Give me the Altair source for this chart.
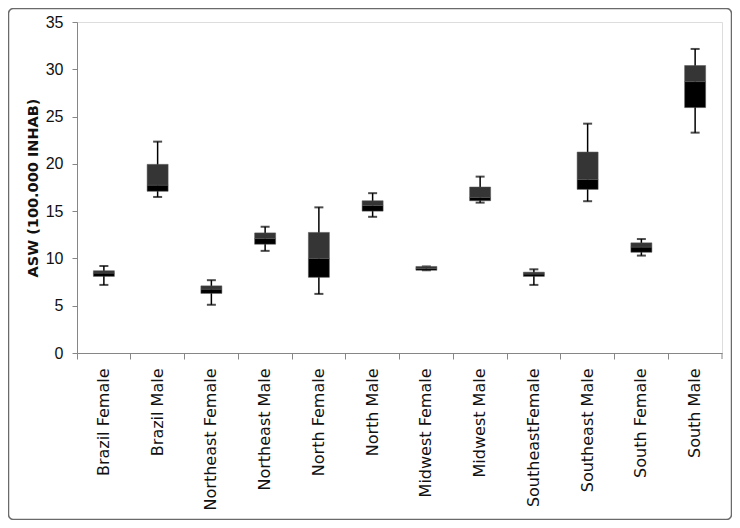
import altair as alt
import pandas as pd

categories = ["Brazil Female", "Brazil Male", "Northeast Female", "Northeast Male",
              "North Female", "North Male", "Midwest Female", "Midwest Male",
              "SoutheastFemale", "Southeast Male", "South Female", "South Male"]
whisker_min = [7.2, 16.5, 5.1, 10.8, 6.25, 14.4, 8.75, 15.9, 7.2, 16.05, 10.3, 23.3]
q1 = [8.1, 17.1, 6.3, 11.5, 8.0, 15.0, 8.75, 16.1, 8.1, 17.3, 10.65, 25.95]
median = [8.45, 17.75, 6.75, 12.1, 10.0, 15.6, 8.95, 16.45, 8.35, 18.35, 11.2, 28.7]
q3 = [8.7, 19.95, 7.1, 12.7, 12.75, 16.1, 9.15, 17.55, 8.55, 21.25, 11.65, 30.4]
whisker_max = [9.2, 22.35, 7.7, 13.35, 15.4, 16.9, 9.15, 18.65, 8.85, 24.25, 12.05, 32.15]

df = pd.DataFrame({"cat": categories, "lo": whisker_min, "q1": q1, "med": median,
                   "q3": q3, "hi": whisker_max})

W, H = 645, 331

x = alt.X("cat:N", sort=categories, title=None,
          scale=alt.Scale(paddingInner=0, paddingOuter=0),
          axis=alt.Axis(labelAngle=-90, labelFont="DejaVu Sans", labelFontSize=16,
                        labelColor="#111111", labelPadding=9, bandPosition=0,
                        tickSize=6, tickColor="#868686", domainColor="#868686",
                        labelLimit=300))
yscale = alt.Scale(domain=[0, 35], nice=False)
yaxis = alt.Axis(values=[0, 5, 10, 15, 20, 25, 30, 35], grid=False,
                 labelFont="Liberation Sans", labelFontSize=16, labelColor="#111111",
                 labelPadding=9, tickSize=5, tickColor="#868686", domainColor="#868686",
                 title="ASW (100.000 INHAB)", titleFont="DejaVu Sans", titleFontSize=14.5,
                 titleFontWeight="bold", titleColor="#111111", titlePadding=5)

base = alt.Chart(df)

whisker = base.mark_rule(color="black", strokeWidth=1.5).encode(
    x=x, y=alt.Y("lo:Q", scale=yscale, axis=yaxis), y2="hi:Q")
cap_hi = base.mark_tick(color="black", size=9, thickness=2, orient="horizontal").encode(
    x=x, y=alt.Y("hi:Q", scale=yscale))
cap_lo = base.mark_tick(color="black", size=9, thickness=2, orient="horizontal").encode(
    x=x, y=alt.Y("lo:Q", scale=yscale))
lower = base.mark_bar(color="black", size=21, stroke="#555555", strokeWidth=0.5).encode(
    x=x, y=alt.Y("q1:Q", scale=yscale), y2="med:Q")
upper = base.mark_bar(color="#353535", size=21, stroke="#555555", strokeWidth=0.5).encode(
    x=x, y=alt.Y("med:Q", scale=yscale), y2="q3:Q")

end_tick = alt.Chart(pd.DataFrame({"a": [0]})).mark_rule(color="#868686").encode(
    x=alt.value(W), y=alt.value(H), y2=alt.value(H + 6))

border = alt.Chart(pd.DataFrame({"a": [0]})).mark_rect(
    fill="transparent", stroke="#6a6a6a", strokeWidth=1.5, cornerRadius=5).encode(
    x=alt.value(-68.5), x2=alt.value(W + 9.5), y=alt.value(-13.5), y2=alt.value(H + 166.5))

chart = alt.layer(whisker, cap_hi, cap_lo, lower, upper, end_tick, border).properties(
    width=W, height=H,
    autosize=alt.AutoSizeParams(type="none"),
    padding={"left": 69, "top": 14, "right": 10, "bottom": 167},
).configure_view(stroke=None).configure(background="white")

chart.save("out.html", embed_options={"renderer": "svg", "actions": False})
